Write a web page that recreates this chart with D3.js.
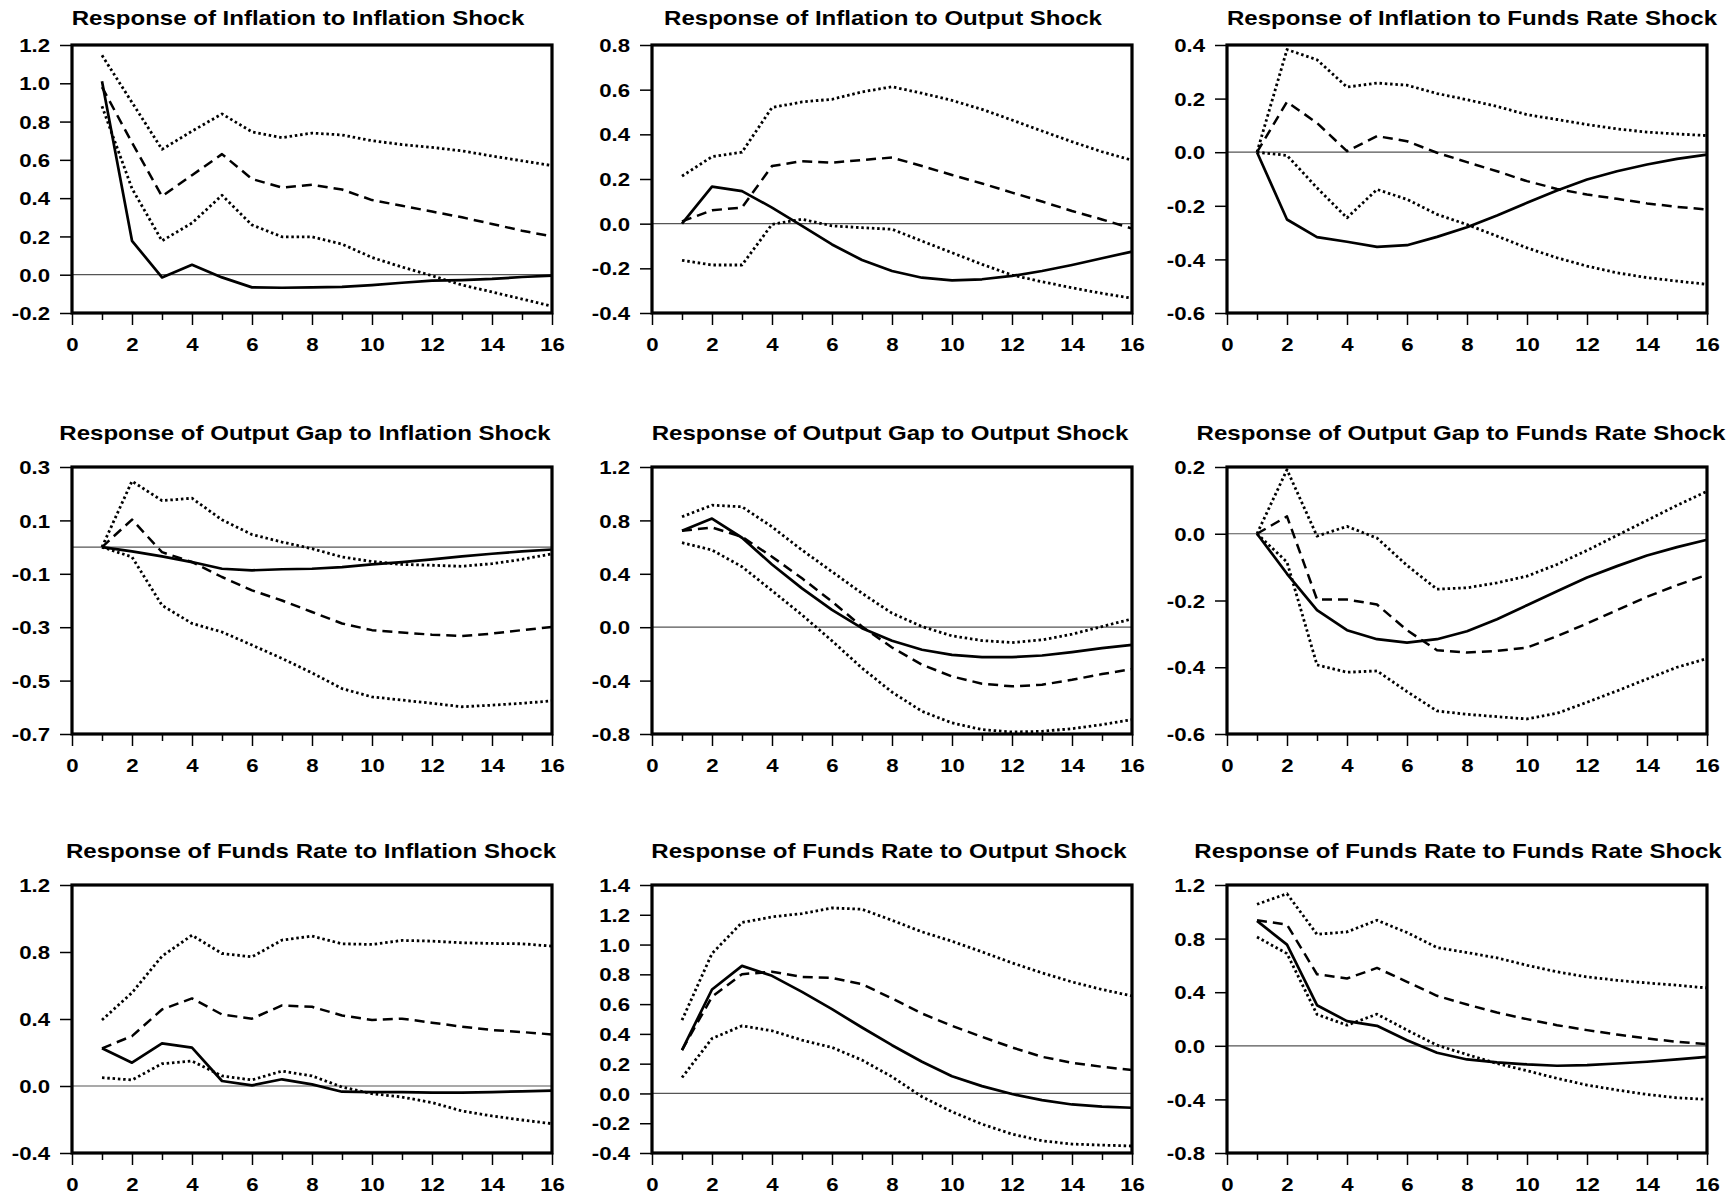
<!DOCTYPE html>
<html>
<head>
<meta charset="utf-8">
<title>Impulse Responses</title>
<script src="https://d3js.org/d3.v7.min.js"></script>
<style>
  body { margin: 0; background: #fff; }
  text { font-family: Arial, "Liberation Sans", sans-serif; font-weight: bold; fill: #000; }
</style>
</head>
<body>
<div id="chart"></div>
<script>
// horizon 1..16
var steps = d3.range(1, 17);

// panel titles, row by row
var titles = [
  "Response of Inflation to Inflation Shock",
  "Response of Inflation to Output Shock",
  "Response of Inflation to Funds Rate Shock",
  "Response of Output Gap to Inflation Shock",
  "Response of Output Gap to Output Shock",
  "Response of Output Gap to Funds Rate Shock",
  "Response of Funds Rate to Inflation Shock",
  "Response of Funds Rate to Output Shock",
  "Response of Funds Rate to Funds Rate Shock"
];

// y axis ranges and tick values
var yDomains = [[-0.2, 1.2], [-0.4, 0.8], [-0.6, 0.4],
                [-0.7, 0.3], [-0.8, 1.2], [-0.6, 0.2],
                [-0.4, 1.2], [-0.4, 1.4], [-0.8, 1.2]];
var yTicks = [
  [-0.2, 0, 0.2, 0.4, 0.6, 0.8, 1.0, 1.2],
  [-0.4, -0.2, 0, 0.2, 0.4, 0.6, 0.8],
  [-0.6, -0.4, -0.2, 0, 0.2, 0.4],
  [-0.7, -0.5, -0.3, -0.1, 0.1, 0.3],
  [-0.8, -0.4, 0, 0.4, 0.8, 1.2],
  [-0.6, -0.4, -0.2, 0, 0.2],
  [-0.4, 0, 0.4, 0.8, 1.2],
  [-0.4, -0.2, 0, 0.2, 0.4, 0.6, 0.8, 1.0, 1.2, 1.4],
  [-0.8, -0.4, 0, 0.4, 0.8, 1.2]
];

// inflation to inflation shock
var pi_pi_est = [1.01, 0.177, -0.014, 0.052, -0.014, -0.066, -0.068, -0.066, -0.064, -0.054, -0.042, -0.031, -0.028, -0.022, -0.012, -0.005];
var pi_pi_med = [0.98, 0.69, 0.41, 0.52, 0.63, 0.50, 0.455, 0.47, 0.445, 0.39, 0.36, 0.33, 0.30, 0.265, 0.23, 0.20];
var pi_pi_hi  = [1.146, 0.90, 0.655, 0.75, 0.84, 0.746, 0.716, 0.74, 0.73, 0.70, 0.68, 0.665, 0.647, 0.62, 0.595, 0.57];
var pi_pi_lo  = [0.88, 0.45, 0.177, 0.27, 0.415, 0.26, 0.198, 0.198, 0.16, 0.09, 0.04, -0.005, -0.054, -0.09, -0.127, -0.165];

// inflation to output shock
var pi_y_est = [0, 0.166, 0.146, 0.072, -0.01, -0.093, -0.163, -0.212, -0.242, -0.254, -0.249, -0.234, -0.212, -0.185, -0.155, -0.125];
var pi_y_med = [0.01, 0.06, 0.072, 0.258, 0.28, 0.273, 0.285, 0.296, 0.258, 0.218, 0.18, 0.139, 0.099, 0.057, 0.019, -0.022];
var pi_y_hi  = [0.213, 0.30, 0.32, 0.52, 0.545, 0.557, 0.59, 0.613, 0.584, 0.552, 0.512, 0.464, 0.415, 0.367, 0.322, 0.284];
var pi_y_lo  = [-0.164, -0.185, -0.185, -0.003, 0.02, -0.01, -0.018, -0.025, -0.078, -0.13, -0.182, -0.23, -0.26, -0.287, -0.312, -0.334];

// inflation to funds rate shock
var pi_r_est = [0, -0.251, -0.317, -0.334, -0.353, -0.347, -0.316, -0.28, -0.236, -0.189, -0.143, -0.102, -0.071, -0.046, -0.025, -0.009];
var pi_r_med = [0, 0.188, 0.109, 0.004, 0.06, 0.041, -0.002, -0.037, -0.071, -0.108, -0.137, -0.158, -0.174, -0.191, -0.204, -0.214];
var pi_r_hi  = [0, 0.383, 0.345, 0.243, 0.258, 0.25, 0.219, 0.196, 0.171, 0.14, 0.122, 0.103, 0.087, 0.075, 0.068, 0.062];
var pi_r_lo  = [0, -0.012, -0.133, -0.245, -0.139, -0.176, -0.232, -0.27, -0.313, -0.357, -0.394, -0.425, -0.45, -0.468, -0.481, -0.493];

// output gap to inflation shock
var y_pi_est = [0, -0.016, -0.035, -0.056, -0.081, -0.087, -0.083, -0.081, -0.075, -0.065, -0.056, -0.046, -0.035, -0.025, -0.016, -0.009];
var y_pi_med = [0, 0.103, -0.019, -0.056, -0.112, -0.162, -0.20, -0.243, -0.286, -0.311, -0.32, -0.328, -0.333, -0.324, -0.311, -0.299];
var y_pi_hi  = [0, 0.247, 0.174, 0.183, 0.102, 0.047, 0.019, -0.006, -0.037, -0.054, -0.065, -0.068, -0.072, -0.062, -0.046, -0.025];
var y_pi_lo  = [0, -0.037, -0.218, -0.286, -0.318, -0.367, -0.417, -0.471, -0.53, -0.561, -0.573, -0.585, -0.598, -0.592, -0.585, -0.576];

// output gap to output shock
var y_y_est = [0.722, 0.814, 0.67, 0.47, 0.291, 0.13, -0.007, -0.102, -0.169, -0.207, -0.224, -0.224, -0.212, -0.187, -0.157, -0.132];
var y_y_med = [0.722, 0.747, 0.677, 0.528, 0.366, 0.192, 0.005, -0.152, -0.281, -0.369, -0.423, -0.443, -0.431, -0.394, -0.351, -0.314];
var y_y_hi  = [0.827, 0.914, 0.902, 0.752, 0.578, 0.416, 0.254, 0.105, 0.005, -0.065, -0.10, -0.115, -0.095, -0.052, 0.005, 0.062];
var y_y_lo  = [0.633, 0.578, 0.453, 0.274, 0.092, -0.102, -0.306, -0.486, -0.63, -0.717, -0.767, -0.785, -0.78, -0.76, -0.73, -0.692];

// output gap to funds rate shock
var y_r_est = [0, -0.12, -0.229, -0.289, -0.316, -0.326, -0.316, -0.292, -0.256, -0.214, -0.172, -0.131, -0.097, -0.065, -0.04, -0.018];
var y_r_med = [0, 0.052, -0.197, -0.197, -0.212, -0.289, -0.349, -0.356, -0.351, -0.341, -0.307, -0.269, -0.229, -0.189, -0.154, -0.123];
var y_r_hi  = [0, 0.192, -0.007, 0.022, -0.013, -0.095, -0.166, -0.162, -0.147, -0.127, -0.092, -0.05, -0.005, 0.04, 0.085, 0.127];
var y_r_lo  = [0, -0.085, -0.393, -0.415, -0.411, -0.473, -0.531, -0.541, -0.548, -0.555, -0.538, -0.505, -0.471, -0.435, -0.40, -0.374];

// funds rate to inflation shock
var r_pi_est = [0.225, 0.139, 0.254, 0.229, 0.03, 0.004, 0.04, 0.01, -0.034, -0.036, -0.036, -0.04, -0.04, -0.036, -0.032, -0.028];
var r_pi_med = [0.225, 0.298, 0.457, 0.523, 0.427, 0.402, 0.481, 0.473, 0.421, 0.394, 0.402, 0.378, 0.354, 0.334, 0.322, 0.308];
var r_pi_hi  = [0.394, 0.557, 0.775, 0.90, 0.791, 0.771, 0.871, 0.895, 0.849, 0.845, 0.869, 0.865, 0.855, 0.851, 0.849, 0.835];
var r_pi_lo  = [0.05, 0.036, 0.133, 0.149, 0.06, 0.036, 0.089, 0.06, -0.006, -0.046, -0.066, -0.099, -0.149, -0.179, -0.203, -0.225];

// funds rate to output shock
var r_y_est = [0.291, 0.698, 0.857, 0.79, 0.682, 0.566, 0.443, 0.324, 0.213, 0.116, 0.049, -0.004, -0.045, -0.074, -0.089, -0.096];
var r_y_med = [0.291, 0.649, 0.801, 0.817, 0.783, 0.776, 0.734, 0.638, 0.537, 0.454, 0.38, 0.309, 0.246, 0.206, 0.179, 0.157];
var r_y_hi  = [0.492, 0.94, 1.148, 1.186, 1.208, 1.246, 1.237, 1.163, 1.085, 1.022, 0.951, 0.877, 0.81, 0.749, 0.698, 0.655];
var r_y_lo  = [0.107, 0.369, 0.454, 0.421, 0.358, 0.309, 0.224, 0.112, -0.022, -0.123, -0.206, -0.273, -0.318, -0.34, -0.347, -0.353];

// funds rate to funds rate shock
var r_r_est = [0.932, 0.755, 0.303, 0.184, 0.149, 0.042, -0.052, -0.102, -0.124, -0.139, -0.149, -0.144, -0.132, -0.119, -0.102, -0.082];
var r_r_med = [0.937, 0.904, 0.534, 0.502, 0.581, 0.477, 0.373, 0.308, 0.248, 0.199, 0.154, 0.117, 0.084, 0.055, 0.03, 0.012];
var r_r_hi  = [1.056, 1.135, 0.832, 0.85, 0.937, 0.845, 0.733, 0.696, 0.656, 0.601, 0.552, 0.514, 0.489, 0.469, 0.452, 0.432];
var r_r_lo  = [0.812, 0.688, 0.234, 0.154, 0.236, 0.117, 0.005, -0.065, -0.132, -0.186, -0.243, -0.293, -0.33, -0.363, -0.388, -0.40];

var panelSeries = [
  [pi_pi_est, pi_pi_med, pi_pi_hi, pi_pi_lo],
  [pi_y_est, pi_y_med, pi_y_hi, pi_y_lo],
  [pi_r_est, pi_r_med, pi_r_hi, pi_r_lo],
  [y_pi_est, y_pi_med, y_pi_hi, y_pi_lo],
  [y_y_est, y_y_med, y_y_hi, y_y_lo],
  [y_r_est, y_r_med, y_r_hi, y_r_lo],
  [r_pi_est, r_pi_med, r_pi_hi, r_pi_lo],
  [r_y_est, r_y_med, r_y_hi, r_y_lo],
  [r_r_est, r_r_med, r_r_hi, r_r_lo]
];

// layout
var W = 1733, H = 1197;
var colLeft = [72, 652, 1227];
var rowTop = [45, 467, 885];
var rowBottom = [313, 734, 1153];
var titleBase = [25, 440, 858];
var titleShift = [-14, -9, 5, -7, -2, -6, -1, -3, -9];
var pw = 480;
var titleStretch = 1.145, labelStretch = 1.2;

// estimate solid, median dashed, bands dotted
var lineStyles = [
  {dash: null, width: 2.7},
  {dash: "10,6", width: 2.5},
  {dash: "2.5,2.8", width: 2.8},
  {dash: "2.5,2.8", width: 2.8}
];

var svg = d3.select("#chart").append("svg")
  .attr("width", W).attr("height", H);
svg.append("rect").attr("width", W).attr("height", H).attr("fill", "#fff");

var x = d3.scaleLinear().domain([0, 16]).range([0, pw]);
// plain hyphen for negatives, like the original
var fmt = function(d) { return d3.format(".1f")(d).replace("\u2212", "-"); };

titles.forEach(function(t, i) {
  var r = Math.floor(i / 3), c = i % 3;
  var ph = rowBottom[r] - rowTop[r];
  var g = svg.append("g").attr("transform", "translate(" + colLeft[c] + "," + rowTop[r] + ")");
  var y = d3.scaleLinear().domain(yDomains[i]).range([ph, 0]);

  // title (the original lettering is wide, so stretch it a bit)
  svg.append("text")
    .attr("transform", "translate(" + (colLeft[c] + pw / 2 + titleShift[i]) + "," + titleBase[r] + ") scale(" + titleStretch + ",1)")
    .attr("text-anchor", "middle")
    .style("font-size", "21px")
    .text(t);

  // y axis
  var ya = g.append("g")
    .call(d3.axisLeft(y).tickValues(yTicks[i]).tickSize(12).tickPadding(9).tickFormat(fmt));
  ya.select(".domain").remove();
  ya.selectAll("line").attr("stroke-width", 1.5);
  ya.selectAll("text")
    .attr("x", null)
    .attr("transform", "translate(-22,0) scale(" + labelStretch + ",1)")
    .attr("dy", "0.36em")
    .style("font-size", "18.5px");

  // x axis, minor ticks at odd steps
  var xa = g.append("g").attr("transform", "translate(0," + ph + ")")
    .call(d3.axisBottom(x).tickValues(d3.range(0, 17)).tickSize(12).tickPadding(13)
      .tickFormat(function(d) { return d % 2 === 0 ? d : ""; }));
  xa.select(".domain").remove();
  xa.selectAll("line").attr("stroke-width", 1.5)
    .attr("y2", function(d) { return d % 2 === 0 ? 12 : 7; });
  xa.selectAll("text")
    .attr("transform", "scale(" + labelStretch + ",1)")
    .style("font-size", "18.5px");

  // zero line
  g.append("line")
    .attr("x1", 0).attr("x2", pw)
    .attr("y1", y(0)).attr("y2", y(0))
    .attr("stroke", "#555").attr("stroke-width", 1.2);

  var line = d3.line()
    .x(function(d, k) { return x(steps[k]); })
    .y(function(d) { return y(d); });

  panelSeries[i].forEach(function(s, k) {
    var st = lineStyles[k];
    g.append("path")
      .datum(s)
      .attr("d", line)
      .attr("fill", "none")
      .attr("stroke", "#000")
      .attr("stroke-width", st.width)
      .attr("stroke-linejoin", "round")
      .attr("stroke-dasharray", st.dash);
  });

  // frame
  g.append("rect")
    .attr("width", pw).attr("height", ph)
    .attr("fill", "none").attr("stroke", "#000").attr("stroke-width", 3.2);
});
</script>
</body>
</html>
